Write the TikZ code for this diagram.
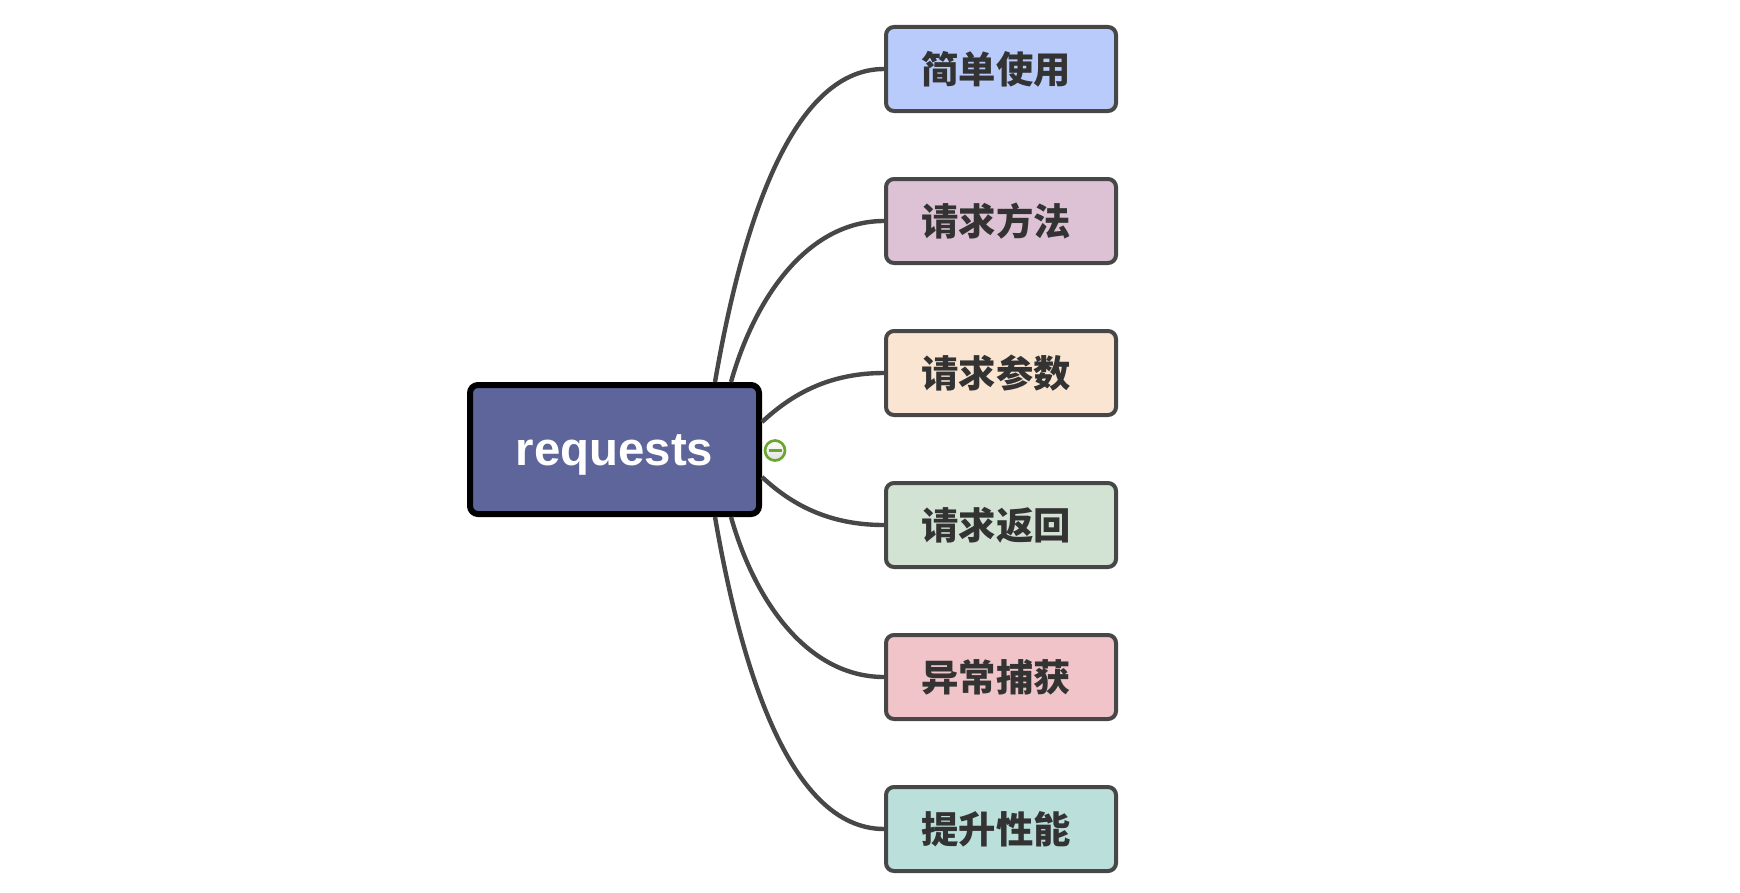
\documentclass[tikz,border=0pt]{standalone}
\usepackage{fontspec}
\setmainfont{Liberation Sans}
\newfontfamily\cjk{Noto Sans CJK SC}
\usetikzlibrary{calc}
\definecolor{rootfill}{RGB}{94,101,155}
\definecolor{edgec}{RGB}{71,71,71}
\definecolor{txtc}{RGB}{51,51,51}
\definecolor{cA}{RGB}{184,203,250}
\definecolor{cB}{RGB}{221,193,212}
\definecolor{cC}{RGB}{250,229,211}
\definecolor{cD}{RGB}{210,227,212}
\definecolor{cE}{RGB}{240,196,200}
\definecolor{cF}{RGB}{187,224,219}
\definecolor{iconc}{RGB}{106,165,45}
\tikzset{
  rootbox/.style={draw=black, line width=4.5pt, fill=rootfill, rounded corners=6pt,
    minimum width=216.75pt, minimum height=96.75pt, inner sep=0pt,
    text=white, font=\fontsize{35.5}{40}\selectfont\bfseries},
  childbox/.style={draw=edgec, line width=3pt, rounded corners=6pt,
    minimum width=172.5pt, minimum height=63pt, inner sep=0pt,
    text=txtc, font=\cjk\fontsize{28}{30}\selectfont\bfseries},
  childtext/.style={text=txtc, font=\cjk\fontsize{28}{30}\selectfont\bfseries, inner sep=0pt},
  link/.style={draw=edgec, line width=3.3pt},
}
\begin{document}
\begin{tikzpicture}[x=0.75pt,y=-0.75pt]
\useasboundingbox (0,0) rectangle (1740,892);
\node[childbox, fill=cA] (c1) at (1001,69) {};
\node[childbox, fill=cB] (c2) at (1001,221) {};
\node[childbox, fill=cC] (c3) at (1001,373) {};
\node[childbox, fill=cD] (c4) at (1001,525) {};
\node[childbox, fill=cE] (c5) at (1001,677) {};
\node[childbox, fill=cF] (c6) at (1001,829) {};
\node[childtext] (t1) at ($(c1.center)+(-5,0)$) {简单使用};
\node[childtext] (t2) at ($(c2.center)+(-5,0)$) {请求方法};
\node[childtext] (t3) at ($(c3.center)+(-5,0)$) {请求参数};
\node[childtext] (t4) at ($(c4.center)+(-5,0)$) {请求返回};
\node[childtext] (t5) at ($(c5.center)+(-5,0)$) {异常捕获};
\node[childtext] (t6) at ($(c6.center)+(-5,0)$) {提升性能};
\node[rootbox] (root) at (614.5,449.5) {};
\node[text=white, font=\fontsize{35.5}{40}\selectfont\bfseries, inner sep=0pt] (rt) at ($(root.center)+(0,5)$) {requests};
\coordinate (s1) at ($(root.north)+(100.5,0)$);
\coordinate (s2) at ($(root.north)+(116.5,0)$);
\coordinate (s3) at ($(root.east)+(0,-27.5)$);
\coordinate (s4) at ($(root.east)+(0,27.5)$);
\coordinate (s5) at ($(root.south)+(116.5,0)$);
\coordinate (s6) at ($(root.south)+(100.5,0)$);
\draw[link] (s1) .. controls ($(s1)+(25,-145)$) and ($(c1.west)+(-96,0)$) .. (c1.west);
\draw[link] (s2) .. controls ($(s2)+(24,-85)$) and ($(c2.west)+(-76,0)$) .. (c2.west);
\draw[link] (s3) .. controls ($(s3)+(29,-27)$) and ($(c3.west)+(-56,0)$) .. (c3.west);
\draw[link] (s4) .. controls ($(s4)+(29,27)$) and ($(c4.west)+(-56,0)$) .. (c4.west);
\draw[link] (s5) .. controls ($(s5)+(24,85)$) and ($(c5.west)+(-76,0)$) .. (c5.west);
\draw[link] (s6) .. controls ($(s6)+(25,145)$) and ($(c6.west)+(-96,0)$) .. (c6.west);
\node[circle, draw=iconc, line width=2pt, inner sep=0pt, minimum size=15pt,
  top color=white, bottom color=black!12] (icon) at (775,450.5) {};
\draw[iconc, line width=2pt] ($(icon.center)+(-6.5,0)$) -- ($(icon.center)+(6.5,0)$);
\end{tikzpicture}
\end{document}
